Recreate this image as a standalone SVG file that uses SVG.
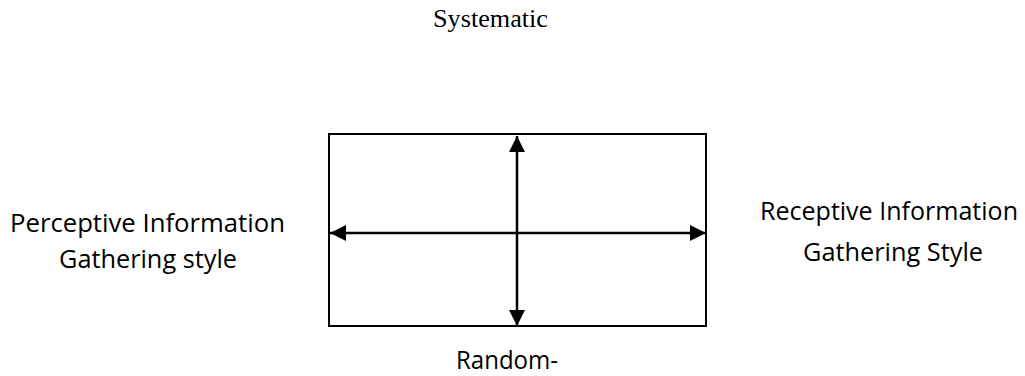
<svg xmlns="http://www.w3.org/2000/svg" width="1025" height="376" viewBox="0 0 1025 376">
<style>
.lbl{font-family:"Open Sans","Noto Sans","Liberation Sans",sans-serif;font-size:25px;fill:#000}
.ser{font-family:"Liberation Serif","Times New Roman",serif;font-size:26px;fill:#000}
.ax{stroke:#000;stroke-width:2.5;fill:none}
</style>
<defs>
<marker id="ah" markerUnits="userSpaceOnUse" markerWidth="16" markerHeight="16" viewBox="0 0 16 16" refX="16" refY="8" orient="auto-start-reverse">
<path d="M0,0 L16,8 L0,16 Z" fill="#000"/>
</marker>
</defs>
<rect width="1025" height="376" fill="#fff"/>
<g id="box">
<rect x="329" y="134" width="377" height="192" fill="none" stroke="#000" stroke-width="2"/>
</g>
<g id="connectors">
<line class="ax" x1="330" y1="233" x2="706" y2="233" marker-start="url(#ah)" marker-end="url(#ah)"/>
<line class="ax" x1="517" y1="136" x2="517" y2="326" marker-start="url(#ah)" marker-end="url(#ah)"/>
</g>
<g id="top-label"><text class="ser" x="433" y="27" textLength="115" lengthAdjust="spacingAndGlyphs">Systematic</text></g>
<g id="left-label">
<text class="lbl" x="10" y="232" textLength="275" lengthAdjust="spacingAndGlyphs">Perceptive Information</text>
<text class="lbl" x="59" y="268" textLength="178" lengthAdjust="spacingAndGlyphs">Gathering style</text>
</g>
<g id="right-label">
<text class="lbl" x="760" y="220" textLength="258" lengthAdjust="spacingAndGlyphs">Receptive Information</text>
<text class="lbl" x="803" y="261" textLength="180" lengthAdjust="spacingAndGlyphs">Gathering Style</text>
</g>
<g id="bottom-label"><text class="lbl" x="456" y="369" textLength="102" lengthAdjust="spacingAndGlyphs">Random-</text></g>
</svg>
